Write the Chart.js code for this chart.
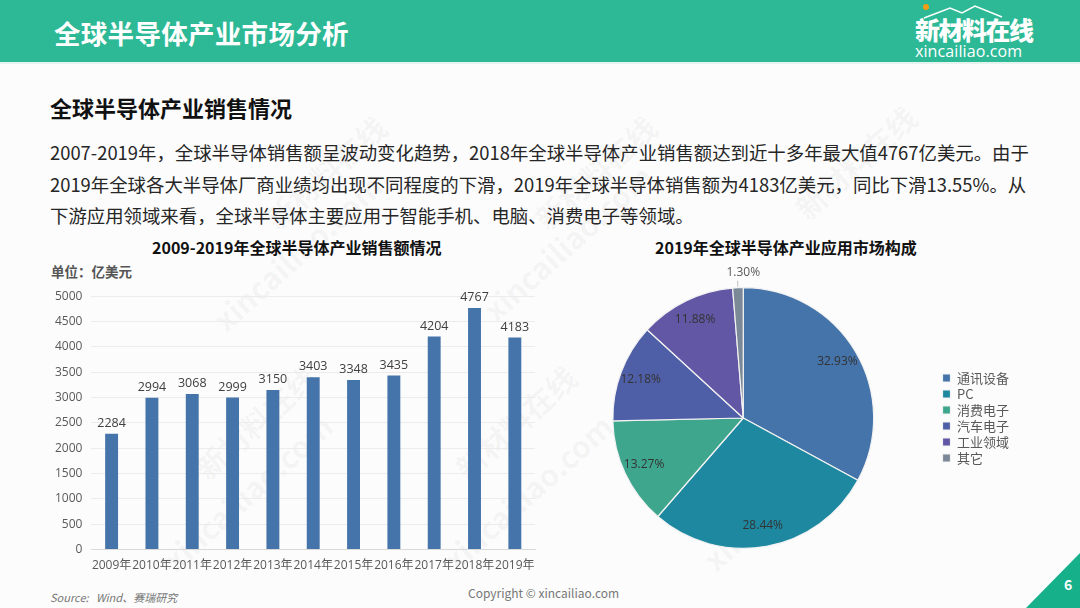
<!DOCTYPE html>
<html>
<head>
<meta charset="utf-8">
<script src="https://cdn.jsdelivr.net/npm/chart.js@4.4.1/dist/chart.umd.min.js"></script>
<style>
  html, body { margin: 0; padding: 0; }
  body { width: 1080px; height: 608px; position: relative; overflow: hidden; background: #fcfcfc;
         font-family: "Noto Sans CJK SC", "Noto Sans", sans-serif; color: #222; }
  .hdr { position: absolute; left: 0; top: 0; width: 1080px; height: 62px; background: #2db996;
         border-bottom: 2px solid #e4f3ee; }
  .hdr h1 { position: absolute; left: 54px; top: 13px; margin: 0; font-size: 26.5px; font-weight: 700; color: #fff; letter-spacing: 0.3px; }
  .logo1 { position: absolute; left: 915px; top: 11px; font-size: 25px; font-weight: 900; color: #fff; letter-spacing: -1.5px; }
  .logo2 { position: absolute; left: 915px; top: 40px; font-size: 16px; color: #fff; font-family: "Open Sans", sans-serif; letter-spacing: 0.1px; }
  .roof { position: absolute; left: 920px; top: 3px; width: 110px; height: 16px; }
  .sub { position: absolute; left: 50px; top: 91px; font-size: 22px; font-weight: 700; color: #111; }
  .para { position: absolute; left: 50px; top: 137px; font-size: 18.4px; line-height: 31.5px; color: #262626; white-space: nowrap; }
  .ctitle { position: absolute; font-size: 16px; font-weight: 700; color: #111; white-space: nowrap; }
  .unit { position: absolute; left: 51px; top: 261px; font-size: 13.5px; font-weight: 700; color: #555; }
  .wm { position: absolute; color: rgba(0,0,0,0.045); font-weight: 700; transform: rotate(-42deg); white-space: nowrap; }
  .src { position: absolute; left: 50px; top: 589px; font-size: 11px; font-style: italic; color: #777; }
  .copy { position: absolute; left: 468px; top: 584px; font-size: 12px; color: #777; }
  .tri { position: absolute; left: 1026px; top: 553px; width: 0; height: 0;
         border-left: 54px solid transparent; border-bottom: 55px solid #16b08a; }
  .pg { position: absolute; left: 1064px; top: 574px; font-size: 14px; font-weight: 700; color: #fff; }
  .box { position: absolute; }
</style>
</head>
<body>
<div class="hdr">
  <h1>全球半导体产业市场分析</h1>
  <svg class="roof" viewBox="0 0 110 16"><circle cx="6" cy="4" r="3" fill="#f39c12"/><polyline points="4,15 30,5 42,10 55,3 82,14" fill="none" stroke="#fff" stroke-width="1.5"/></svg>
  <div class="logo1">新材料在线</div>
  <div class="logo2">xincailiao.com</div>
</div>

<div class="wm" style="left:250px;top:150px;font-size:30px;">新材料在线</div>
<div class="wm" style="left:520px;top:150px;font-size:30px;">新材料在线</div>
<div class="wm" style="left:780px;top:140px;font-size:30px;">新材料在线</div>
<div class="wm" style="left:190px;top:230px;font-size:30px;">xincailiao.com</div>
<div class="wm" style="left:460px;top:220px;font-size:30px;">xincailiao.com</div>
<div class="wm" style="left:180px;top:400px;font-size:30px;">新材料在线</div>
<div class="wm" style="left:440px;top:400px;font-size:30px;">新材料在线</div>
<div class="wm" style="left:140px;top:470px;font-size:30px;">xincailiao.com</div>
<div class="wm" style="left:420px;top:470px;font-size:30px;">xincailiao.com</div>
<div class="wm" style="left:680px;top:470px;font-size:30px;">xincailiao.com</div>

<div class="sub">全球半导体产业销售情况</div>
<div class="para">2007-2019年，全球半导体销售额呈波动变化趋势，2018年全球半导体产业销售额达到近十多年最大值4767亿美元。由于<br>2019年全球各大半导体厂商业绩均出现不同程度的下滑，2019年全球半导体销售额为4183亿美元，同比下滑13.55%。从<br>下游应用领域来看，全球半导体主要应用于智能手机、电脑、消费电子等领域。</div>

<div class="ctitle" style="left:152px;top:235px;">2009-2019年全球半导体产业销售额情况</div>
<div class="ctitle" style="left:655px;top:235px;">2019年全球半导体产业应用市场构成</div>
<div class="unit">单位：亿美元</div>

<div class="box" style="left:40px;top:280px;width:503px;height:294px;"><canvas id="bar"></canvas></div>
<div class="box" style="left:519px;top:255px;width:500px;height:326px;"><canvas id="pie"></canvas></div>

<div class="src">Source:&nbsp;&nbsp; Wind、赛瑞研究</div>
<div class="copy">Copyright © xincailiao.com</div>
<div class="tri"></div>
<div class="pg">6</div>

<script>
// bar chart data
var years = ["2009年", "2010年", "2011年", "2012年", "2013年", "2014年", "2015年", "2016年", "2017年", "2018年", "2019年"];
var sales = [2284, 2994, 3068, 2999, 3150, 3403, 3348, 3435, 4204, 4767, 4183];

// pie chart data
var segments = ["通讯设备", "PC", "消费电子", "汽车电子", "工业领域", "其它"];
var shares = [32.93, 28.44, 13.27, 12.18, 11.88, 1.30];
var segColors = ["#4474a9", "#1d88a0", "#3fa68e", "#4f5fa7", "#6257a5", "#7b8898"];

var numFont = "'Open Sans', 'Noto Sans CJK SC', sans-serif";
Chart.defaults.font.family = numFont;
Chart.defaults.color = "#595959";

// value labels above bars
var barLabels = {
    id: "barLabels",
    afterDatasetsDraw: function (chart) {
        var ctx = chart.ctx;
        var meta = chart.getDatasetMeta(0);
        ctx.save();
        ctx.font = "12.5px " + numFont;
        ctx.fillStyle = "#404040";
        ctx.textAlign = "center";
        ctx.textBaseline = "bottom";
        meta.data.forEach(function (bar, i) {
            ctx.fillText(sales[i], bar.x, bar.y - 4);
        });
        ctx.restore();
    }
};

// percentage labels on the pie
var pieLabels = {
    id: "pieLabels",
    afterDatasetsDraw: function (chart) {
        var ctx = chart.ctx;
        var meta = chart.getDatasetMeta(0);
        ctx.save();
        ctx.font = "12px " + numFont;
        ctx.textAlign = "center";
        ctx.textBaseline = "middle";
        meta.data.forEach(function (arc, i) {
            var mid = (arc.startAngle + arc.endAngle) / 2;
            var r = arc.outerRadius;
            var txt = shares[i].toFixed(2) + "%";
            if (shares[i] < 5) {
                ctx.strokeStyle = "#bfbfbf";
                ctx.lineWidth = 1;
                ctx.beginPath();
                ctx.moveTo(arc.x + Math.cos(mid) * (r + 1), arc.y + Math.sin(mid) * (r + 1));
                ctx.lineTo(arc.x + Math.cos(mid) * (r + 7), arc.y + Math.sin(mid) * (r + 7));
                ctx.stroke();
                ctx.fillStyle = "#595959";
                ctx.fillText(txt, arc.x + Math.cos(mid) * (r + 15) + 6, arc.y + Math.sin(mid) * (r + 15));
            } else {
                ctx.fillStyle = "#333333";
                ctx.fillText(txt, arc.x + Math.cos(mid) * r * 0.84, arc.y + Math.sin(mid) * r * 0.84);
            }
        });
        ctx.restore();
    }
};

new Chart(document.getElementById("bar"), {
    type: "bar",
    data: {
        labels: years,
        datasets: [{
            data: sales,
            backgroundColor: "#4474a9",
            categoryPercentage: 1,
            barPercentage: 0.32
        }]
    },
    options: {
        responsive: true,
        maintainAspectRatio: false,
        animation: false,
        layout: { padding: { top: 7, right: 8, left: 6 } },
        plugins: { legend: { display: false }, tooltip: { enabled: false } },
        scales: {
            x: {
                grid: { display: false },
                border: { display: true, color: "#d9d9d9" },
                ticks: { autoSkip: false, maxRotation: 0, padding: 1, font: { size: 12 }, color: "#595959" }
            },
            y: {
                min: 0,
                max: 5000,
                grid: { color: "#ececec", drawTicks: false },
                border: { display: false },
                ticks: {
                    stepSize: 500, padding: 9, font: { size: 12 }, color: "#595959",
                    callback: function (v) { return String(v); }
                }
            }
        }
    },
    plugins: [barLabels]
});

new Chart(document.getElementById("pie"), {
    type: "pie",
    data: {
        labels: segments,
        datasets: [{
            data: shares,
            backgroundColor: segColors,
            borderColor: "#f2f2f2",
            borderWidth: 1.2
        }]
    },
    options: {
        responsive: true,
        maintainAspectRatio: false,
        animation: false,
        layout: { padding: { top: 32, bottom: 32, left: 28 } },
        plugins: {
            tooltip: { enabled: false },
            legend: {
                position: "right",
                labels: {
                    boxWidth: 8,
                    boxHeight: 8,
                    padding: 3,
                    color: "#595959",
                    font: { size: 13, family: "'Noto Sans CJK SC', 'Open Sans', sans-serif" }
                }
            }
        }
    },
    plugins: [pieLabels]
});
</script>
</body>
</html>
